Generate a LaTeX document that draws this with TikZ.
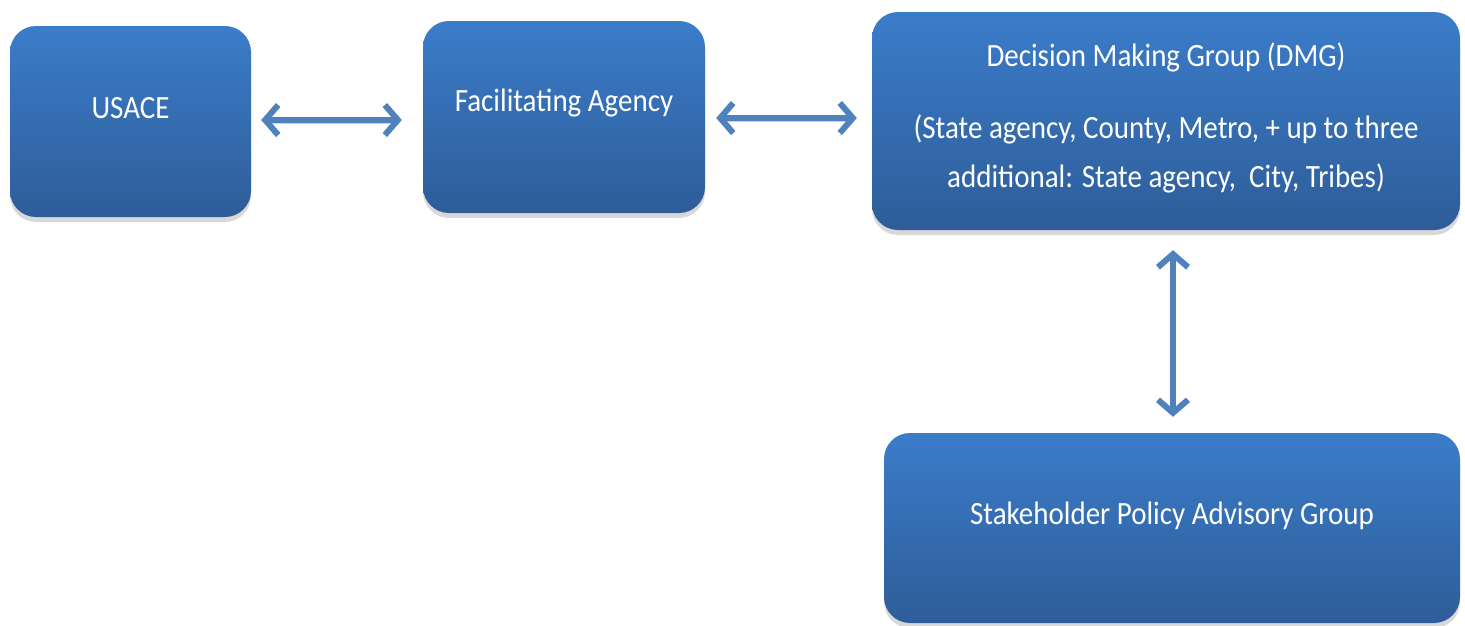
\documentclass[tikz,border=0pt]{standalone}
\usepackage{fontspec}
\setmainfont{Carlito}
\usetikzlibrary{arrows.meta,shadows}
\definecolor{boxtop}{HTML}{3B7CC9}
\definecolor{boxbot}{HTML}{2E5D99}
\definecolor{arrowblue}{HTML}{4F81BD}
\newcommand\tallline[1]{\scalebox{1}[1.12]{#1}}
\tikzset{
  box/.style={rectangle, rounded corners=26pt, top color=boxtop, bottom color=boxbot, draw=none,
    drop shadow={opacity=0.3, shadow xshift=0pt, shadow yshift=-5pt}, inner sep=0pt},
  txt/.style={text=white, font=\fontsize{29}{36}\selectfont, inner sep=0pt, align=center},
  conn/.style={draw=arrowblue, line width=6pt,
    {Straight Barb[length=13pt,width=30pt]}-{Straight Barb[length=13pt,width=30pt]},
    preaction={draw=black, draw opacity=0.18, transform canvas={yshift=-3pt}}}
}
\begin{document}
\begin{tikzpicture}[x=1pt,y=-1pt]
\useasboundingbox (0,0) rectangle (1465,625);
\fill[white] (0,0) rectangle (1465,625);
\node[box, minimum width=241pt, minimum height=191pt] (usace) at (130.5,121.5) {};
\node[box, minimum width=282pt, minimum height=192pt] (fac) at (564,117) {};
\node[box, minimum width=588pt, minimum height=218pt] (dmg) at (1166,121) {};
\node[box, minimum width=576pt, minimum height=190pt] (spag) at (1172,528) {};
\node[txt] (usacet) at (130.5,108) {\tallline{USACE}};
\node[txt] (fact) at (564,103) {\tallline{Facilitating Agency}};
\node[txt] (dmgt1) at (1166,57) {\tallline{Decision Making Group (DMG)}};
\node[txt, font=\fontsize{29}{49}\selectfont] (dmgt2) at (1166,154) {\tallline{(State agency, County, Metro, + up to three}\\\tallline{additional: State agency,\ \ City, Tribes)}};
\node[txt] (spagt) at (1172,516) {\tallline{Stakeholder Policy Advisory Group}};
\draw[conn] ([xshift=10pt,yshift=1.5pt]usace.east) -- ([xshift=-21pt,yshift=-3pt]fac.west);
\draw[conn] ([xshift=11pt,yshift=-1pt]fac.east) -- ([xshift=-15pt,yshift=3pt]dmg.west);
\draw[conn] ([xshift=7pt,yshift=-20pt]dmg.south) -- ([xshift=1pt,yshift=16pt]spag.north);
\end{tikzpicture}
\end{document}
